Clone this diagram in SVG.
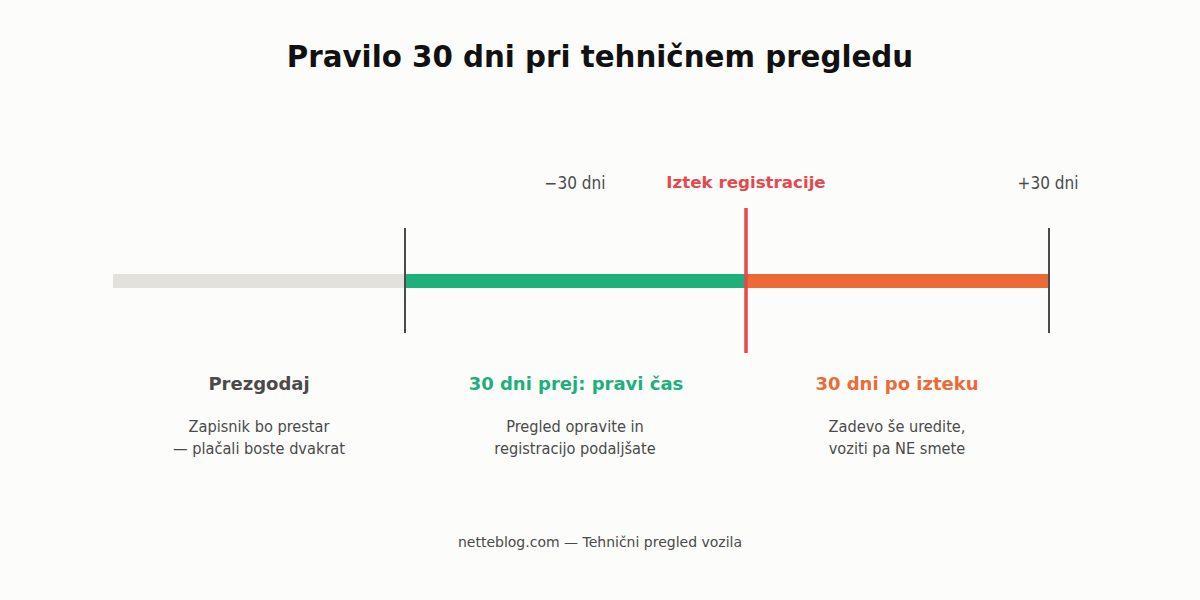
<svg xmlns="http://www.w3.org/2000/svg" width="1200" height="600" viewBox="0 0 1200 600">
<style>
.t{font-family:"DejaVu Sans",sans-serif}
.c{font-family:"DejaVu Sans Condensed","DejaVu Sans",sans-serif;font-stretch:condensed}
.title{font-size:29.3px;font-weight:bold;fill:#111}
.lbl{font-size:17px;fill:#4a4a4a}
.h{font-size:18px;font-weight:bold}
.d{font-size:16.2px;fill:#4a4a4a}
.tick{stroke:#4a4a4a;stroke-width:2}
</style>
<rect width="1200" height="600" fill="#fcfcfb"/>
<text class="t title" x="600" y="67" text-anchor="middle">Pravilo 30 dni pri tehničnem pregledu</text>
<g id="connectors">
<rect x="113" y="274" width="292" height="14" fill="#e3e1dc"/>
<rect x="405" y="274" width="341" height="14" fill="#1db07a"/>
<rect x="746" y="274" width="303" height="14" fill="#ec6a35"/>
</g>
<g id="tick-minus30">
<line class="tick" x1="405" y1="228" x2="405" y2="333"/>
<text class="c lbl" x="575" y="189" text-anchor="middle">−30 dni</text>
</g>
<g id="tick-expiry">
<line x1="746" y1="208" x2="746" y2="353" stroke="#e5484d" stroke-width="3.5"/>
<text class="t" x="746" y="188" text-anchor="middle" font-size="16.7" font-weight="bold" fill="#e5484d">Iztek registracije</text>
</g>
<g id="tick-plus30">
<line class="tick" x1="1049" y1="228" x2="1049" y2="333"/>
<text class="c lbl" x="1048" y="189" text-anchor="middle">+30 dni</text>
</g>
<g id="zone-early">
<text class="t h" x="259" y="390" text-anchor="middle" fill="#4a4a4a">Prezgodaj</text>
<text class="c d" x="259" y="432" text-anchor="middle">Zapisnik bo prestar</text>
<text class="c d" x="259" y="454" text-anchor="middle">— plačali boste dvakrat</text>
</g>
<g id="zone-right">
<text class="t h" x="576" y="390" text-anchor="middle" fill="#1db07a">30 dni prej: pravi čas</text>
<text class="c d" x="575" y="432" text-anchor="middle">Pregled opravite in</text>
<text class="c d" x="575" y="454" text-anchor="middle">registracijo podaljšate</text>
</g>
<g id="zone-after">
<text class="t h" x="897" y="390" text-anchor="middle" fill="#ec6a35">30 dni po izteku</text>
<text class="c d" x="897" y="432" text-anchor="middle">Zadevo še uredite,</text>
<text class="c d" x="897" y="454" text-anchor="middle">voziti pa NE smete</text>
</g>
<text class="t" x="600" y="547" text-anchor="middle" font-size="14" fill="#4a4a4a">netteblog.com — Tehnični pregled vozila</text>
</svg>
